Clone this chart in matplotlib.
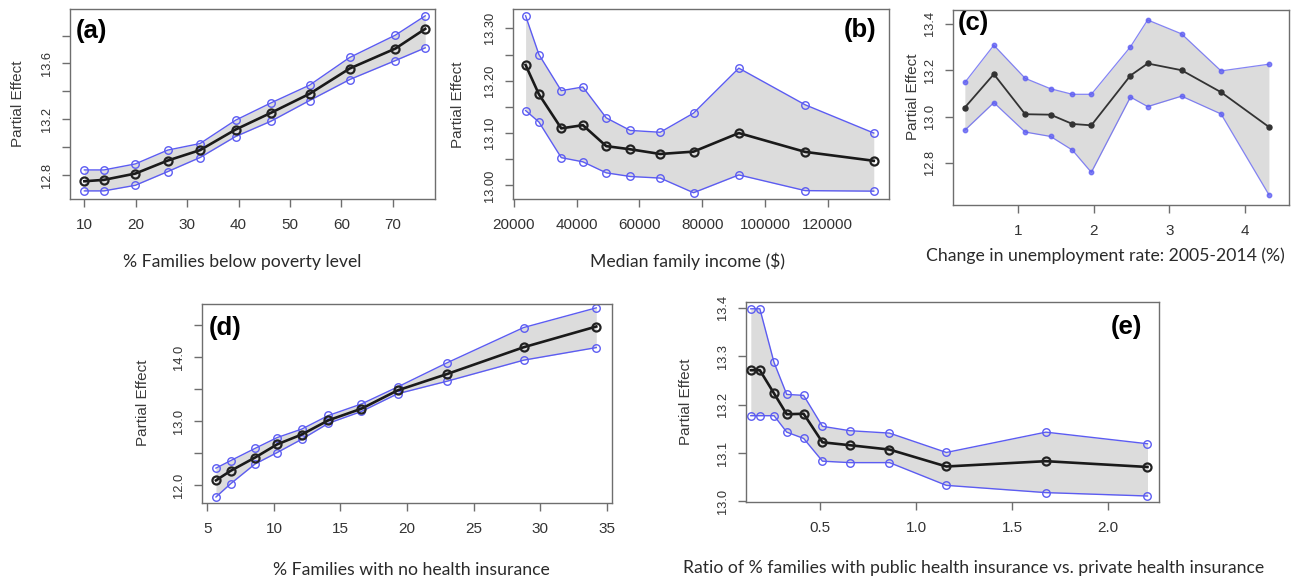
import matplotlib
matplotlib.use("Agg")
import matplotlib.pyplot as plt
import numpy as np

W, H = 1301, 583

# ---------------- data ----------------
a_x = [10, 13.8, 19.9, 26.2, 32.5, 39.4, 46.3, 53.8, 61.6, 70.5, 76.3]
a_mean = [12.757, 12.767, 12.812, 12.905, 12.98, 13.127, 13.247, 13.383, 13.564, 13.707, 13.848]
a_upper = [12.838, 12.838, 12.881, 12.98, 13.027, 13.194, 13.318, 13.445, 13.643, 13.803, 13.941]
a_lower = [12.688, 12.688, 12.728, 12.826, 12.927, 13.077, 13.187, 13.335, 13.485, 13.621, 13.712]

b_x = [23716, 27962, 35074, 41975, 49406, 57049, 66603, 77219, 91656, 112781, 134650]
b_mean = [13.230, 13.174, 13.109, 13.115, 13.075, 13.069, 13.060, 13.0645, 13.100, 13.064, 13.047]
b_upper = [13.324, 13.250, 13.181, 13.188, 13.129, 13.105, 13.1015, 13.138, 13.224, 13.154, 13.100]
b_lower = [13.143, 13.121, 13.053, 13.045, 13.024, 13.017, 13.014, 12.986, 13.020, 12.990, 12.989]

c_x = [0.292, 0.676, 1.091, 1.427, 1.716, 1.967, 2.485, 2.713, 3.162, 3.685, 4.319]
c_mean = [13.039, 13.183, 13.010, 13.008, 12.968, 12.962, 13.177, 13.229, 13.200, 13.105, 12.955]
c_upper = [13.147, 13.308, 13.165, 13.120, 13.096, 13.096, 13.301, 13.417, 13.357, 13.197, 13.226]
c_lower = [12.941, 13.060, 12.933, 12.914, 12.855, 12.759, 13.084, 13.043, 13.088, 13.011, 12.662]

d_x = [5.65, 6.75, 8.58, 10.25, 12.09, 14.10, 16.58, 19.29, 23.0, 28.76, 34.22]
d_mean = [12.074, 12.223, 12.43, 12.637, 12.79, 13.013, 13.194, 13.48, 13.735, 14.154, 14.478]
d_upper = [12.265, 12.382, 12.573, 12.743, 12.875, 13.088, 13.268, 13.533, 13.91, 14.462, 14.77]
d_lower = [11.814, 12.021, 12.329, 12.509, 12.716, 12.966, 13.151, 13.427, 13.623, 13.952, 14.149]

e_x = [0.140, 0.187, 0.261, 0.327, 0.415, 0.513, 0.655, 0.862, 1.158, 1.676, 2.205]
e_mean = [13.271, 13.271, 13.223, 13.180, 13.181, 13.122, 13.116, 13.107, 13.072, 13.083, 13.071]
e_upper = [13.398, 13.398, 13.287, 13.221, 13.219, 13.155, 13.146, 13.141, 13.101, 13.143, 13.119]
e_lower = [13.177, 13.177, 13.177, 13.143, 13.130, 13.083, 13.080, 13.080, 13.033, 13.018, 13.011]

xlabels = ["% Families below poverty level",
           "Median family income ($)",
           "Change in unemployment rate: 2005-2014 (%)",
           "% Families with no health insurance",
           "Ratio of % families with public health insurance vs. private health insurance"]
panel_tags = ["(a)", "(b)", "(c)", "(d)", "(e)"]
ylabel = "Partial Effect"

# ---------------- styling ----------------
GREY = "#6e6e6e"
TXT = "#333333"
BLUE = "#5c5cf2"
FILL = "#dcdcdc"

fig = plt.figure(figsize=(W / 100, H / 100), dpi=100)
fig.patch.set_facecolor("white")


def px_axes(l, t, r, b):
    return fig.add_axes([l / W, 1 - b / H, (r - l) / W, (b - t) / H])


def fx(x):
    return x / W


def fy(y):
    return 1 - y / H


def style(ax, xticks, xtl, yticks, ytl, xlim, ylim):
    ax.set_xlim(*xlim)
    ax.set_ylim(*ylim)
    for s in ax.spines.values():
        s.set_color(GREY)
        s.set_linewidth(1.0)
    ax.set_xticks(xticks)
    ax.set_xticklabels(xtl, fontsize=11, color=TXT, family="Liberation Sans")
    ax.set_yticks(yticks)
    ax.set_yticklabels(ytl, fontsize=9.3, color=TXT, family="Liberation Sans",
                       rotation=90, va="center")
    ax.tick_params(axis="both", direction="out", length=6, width=1.0, color=GREY)
    ax.tick_params(axis="x", pad=8)
    ax.tick_params(axis="y", pad=6)


def draw(ax, x, m, u, lo, small=False):
    ax.fill_between(x, lo, u, color=FILL, lw=0, zorder=1)
    if small:
        ax.plot(x, u, color=BLUE, lw=0.9, marker="o", ms=3.2, mfc=BLUE, mec=BLUE, alpha=0.75, zorder=2)
        ax.plot(x, lo, color=BLUE, lw=0.9, marker="o", ms=3.2, mfc=BLUE, mec=BLUE, alpha=0.75, zorder=2)
        ax.plot(x, m, color="#333333", lw=1.3, marker="o", ms=3.6, mfc="#333333", mec="#333333", zorder=3)
    else:
        ax.plot(x, u, color=BLUE, lw=1.0, marker="o", ms=5.4, mfc="none", mec=BLUE, mew=1.0, zorder=2)
        ax.plot(x, lo, color=BLUE, lw=1.0, marker="o", ms=5.4, mfc="none", mec=BLUE, mew=1.0, zorder=2)
        ax.plot(x, m, color="#1a1a1a", lw=1.9, marker="o", ms=5.8, mfc="none", mec="#222222", mew=1.6, zorder=3)


def blank_labels(ticks, labeled, fmt):
    return [fmt.format(t) if any(abs(t - l) < 1e-9 for l in labeled) else "" for t in ticks]


# (a)
axA = px_axes(70, 9, 435, 199)
draw(axA, a_x, a_mean, a_upper, a_lower)
yt = [12.8, 13.0, 13.2, 13.4, 13.6, 13.8]
style(axA, [10, 20, 30, 40, 50, 60, 70], ["10", "20", "30", "40", "50", "60", "70"],
      yt, blank_labels(yt, [12.8, 13.2, 13.6], "{:.1f}"), (7.2, 78.2), (12.63, 13.99))

# (b)
axB = px_axes(513, 9, 889, 199)
draw(axB, b_x, b_mean, b_upper, b_lower)
yt = [13.0, 13.05, 13.1, 13.15, 13.2, 13.25, 13.3]
xt = [20000, 40000, 60000, 80000, 100000, 120000]
style(axB, xt, [str(v) for v in xt],
      yt, blank_labels(yt, [13.0, 13.1, 13.2, 13.3], "{:.2f}"), (19700, 139500), (12.974, 13.337))

# (c)
axC = px_axes(953, 10, 1289, 205)
draw(axC, c_x, c_mean, c_upper, c_lower, small=True)
yt = [12.8, 13.0, 13.2, 13.4]
style(axC, [1, 2, 3, 4], ["1", "2", "3", "4"],
      yt, ["12.8", "13.0", "13.2", "13.4"], (0.135, 4.585), (12.618, 13.46))

# (d)
axD = px_axes(202, 304, 612, 503)
draw(axD, d_x, d_mean, d_upper, d_lower)
yt = [12.0, 12.5, 13.0, 13.5, 14.0, 14.5]
xt = [5, 10, 15, 20, 25, 30, 35]
style(axD, xt, [str(v) for v in xt],
      yt, blank_labels(yt, [12.0, 13.0, 14.0], "{:.1f}"), (4.6, 35.4), (11.72, 14.83))

# (e)
axE = px_axes(746, 302, 1159, 502)
draw(axE, e_x, e_mean, e_upper, e_lower)
yt = [13.0, 13.1, 13.2, 13.3, 13.4]
xt = [0.5, 1.0, 1.5, 2.0]
style(axE, xt, ["0.5", "1.0", "1.5", "2.0"],
      yt, ["13.0", "13.1", "13.2", "13.3", "13.4"], (0.115, 2.265), (12.9986, 13.412))

# axis titles (x)
xlab_pos = [(242.5, 262), (687.5, 261), (1105.5, 256), (411.5, 570), (974, 568)]
for (px, py), lab in zip(xlab_pos, xlabels):
    fig.text(fx(px), fy(py), lab, ha="center", va="center", fontsize=12.7,
             family="Lato", color="#2a2a2a")

# y labels
ylab_pos = [(18, 104), (458, 105), (913, 97), (143, 403), (686, 402)]
for px, py in ylab_pos:
    fig.text(fx(px), fy(py), ylabel, ha="center", va="center", rotation=90,
             fontsize=11, family="Liberation Sans", color="#3a3a3a")

# panel tags
tag_pos = [(76, 31), (844, 30), (958, 23), (209, 328), (1111, 327)]
for (px, py), t in zip(tag_pos, panel_tags):
    fig.text(fx(px), fy(py), t, ha="left", va="center", fontsize=18.5,
             family="Liberation Sans", fontweight="bold", color="black")

fig.savefig("out.png", dpi=100)
